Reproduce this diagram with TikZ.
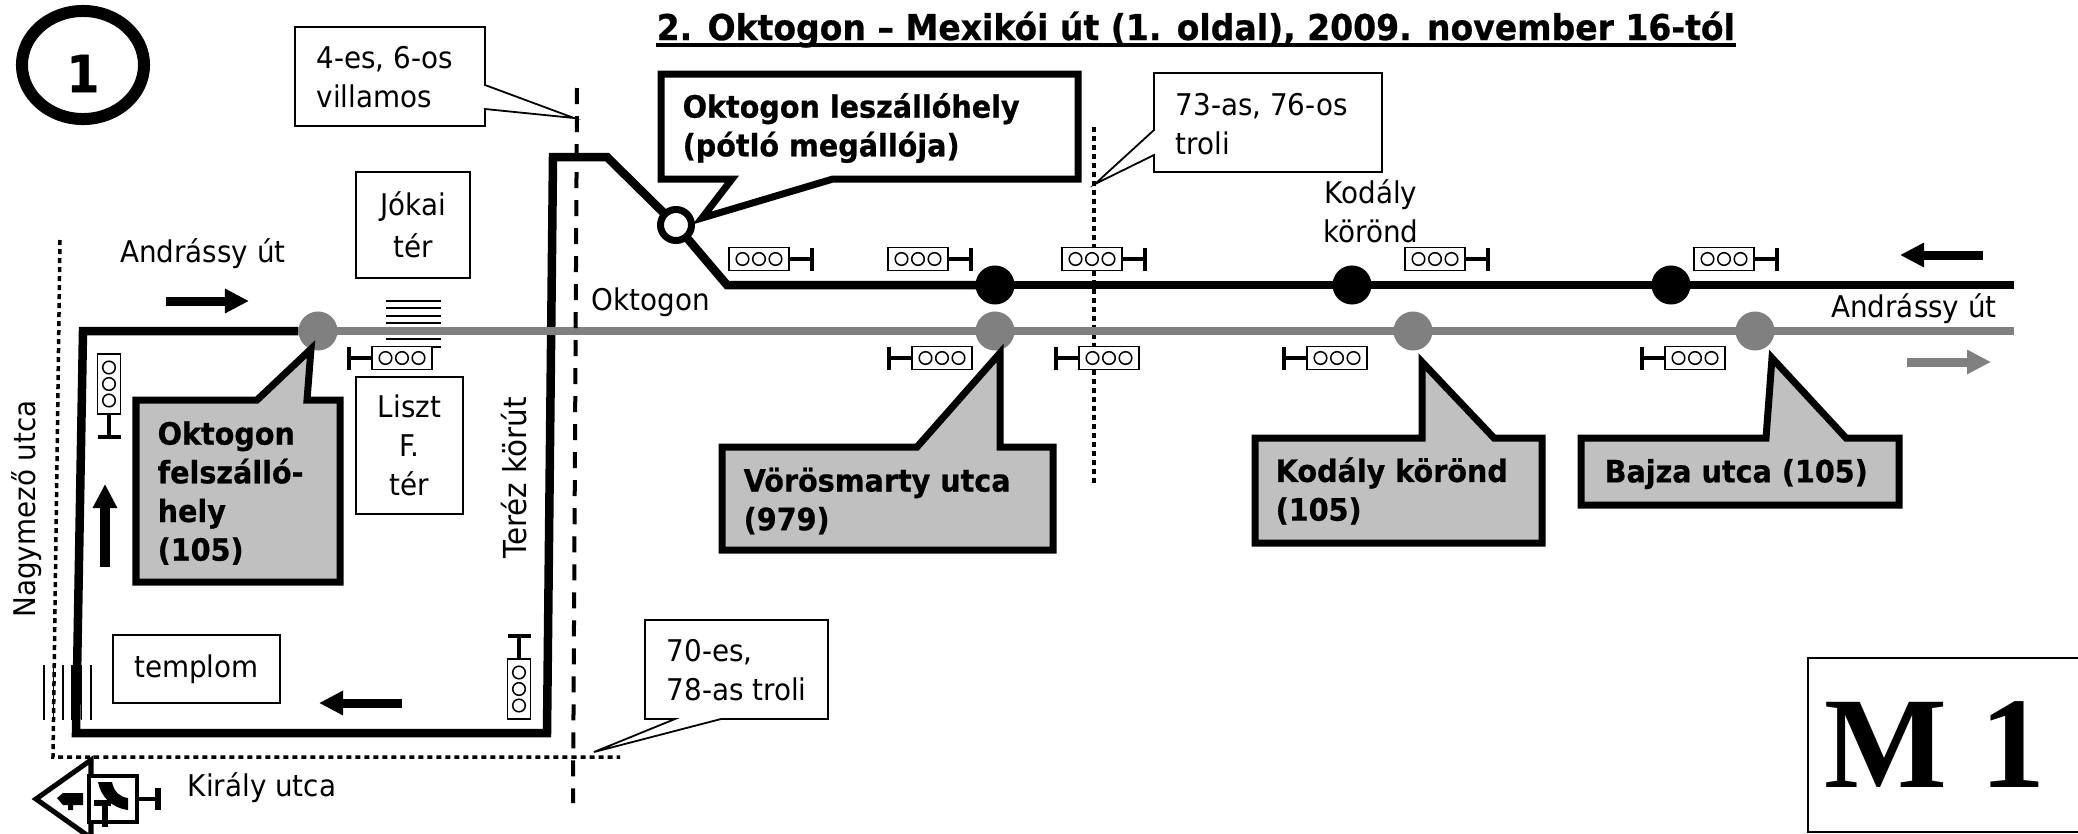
\documentclass[tikz,border=0pt]{standalone}
\usepackage{fontspec}
\setmainfont[FakeStretch=0.93,BoldFeatures={FakeStretch=0.93,FakeBold=0.7}]{DejaVu Sans}
\newfontfamily\mfont{Liberation Serif}
\usepackage{tikz}
\usetikzlibrary{shapes.geometric,arrows.meta}

\definecolor{roadgrey}{HTML}{808080}
\definecolor{calloutgrey}{HTML}{C0C0C0}

\tikzset{
  every node/.style={font=\fontsize{8.5}{11}\selectfont,inner sep=0pt},
  blackroute/.style={line width=0.085cm,black,line join=miter},
  greyroute/.style={line width=0.08cm,roadgrey},
  blackstop/.style={shape=circle,fill=black,minimum size=0.39cm,outer sep=0pt},
  greystop/.style={shape=circle,fill=roadgrey,minimum size=0.39cm,outer sep=0pt},
  labelbox/.style={draw=black,line width=0.018cm,fill=white,align=center},
  thinbubble/.style={draw=black,line width=0.018cm,fill=white},
  thickbubble/.style={draw=black,line width=0.07cm,fill=white,line join=miter},
  greybubble/.style={thickbubble,fill=calloutgrey},
  bubbletext/.style={font=\fontsize{8.75}{11}\selectfont\bfseries,anchor=west,align=left},
  tramline/.style={line width=0.04cm,dash pattern=on 0.16cm off 0.12cm},
  streetline/.style={line width=0.035cm,dash pattern=on 0.05cm off 0.04cm},
  hatchline/.style={line width=0.015cm},
  dirarrow/.style={line width=0.09cm,-{Triangle[length=0.24cm,width=0.23cm]}},
  lights/.pic={
    \draw[line width=0.018cm,fill=white] (-30,-11.5) rectangle (30,11.5);
    \foreach \i in {-16.5,0,16.5}
      \draw[line width=0.015cm] (\i,0) circle (6.3);
    \draw[line width=0.035cm] (30,0) -- (53,0);
    \draw[line width=0.04cm] (53,-11.5) -- (53,11.5);
  }
}

\begin{document}
\begin{tikzpicture}[x=0.01cm,y=-0.01cm]
  \useasboundingbox (0,0) rectangle (2078,833);

  % stops
  \node[greystop] (g1) at (318,331) {};
  \node[greystop] (g2) at (995,331) {};
  \node[greystop] (g3) at (1413,331) {};
  \node[greystop] (g4) at (1755,331) {};
  \node[blackstop] (b1) at (995,285) {};
  \node[blackstop] (b2) at (1352,285) {};
  \node[blackstop] (b3) at (1671,285) {};
  \node[shape=circle,draw=black,fill=white,line width=0.07cm,minimum size=0.31cm,outer sep=0pt] (land) at (676,225) {};

  \coordinate (c1) at (83,331);
  \coordinate (c2) at (76,733);
  \coordinate (c3) at (547,733);
  \coordinate (c4) at (553,157);
  \coordinate (c5) at (607,157);
  \coordinate (c6) at (727,285);
  \coordinate (blackend) at (2014,285);
  \coordinate (greyend) at (2014,331);

  % streets
  \coordinate (s1) at (60,240);
  \coordinate (s2) at (53,757);
  \coordinate (s3) at (620,757);
  \coordinate (s4) at (1094,127);
  \coordinate (s5) at (1094,484);
  \draw[streetline] (s1) -- (s2) -- (s3);
  \draw[streetline] (s4) -- (s5);

  % crossings
  \foreach \y in {301,308,316,323,339,347}
    \draw[hatchline] (386,\y) -- (441,\y);
  \foreach \x in {44,53.4,62.8,72.2,81.6,91}
    \draw[hatchline] (\x,665) -- (\x,720);

  % routes
  \draw[blackroute] (g1.west) -- (c1) -- (c2) -- (c3) -- (c4) -- (c5) -- (land);
  \draw[blackroute] (land) -- (c6) -- (b1.center);
  \draw[blackroute] (b1.center) -- (b2.center);
  \draw[blackroute] (b2.center) -- (b3.center);
  \draw[blackroute] (b3.center) -- (blackend);
  \draw[greyroute] (g1.center) -- (g2.center);
  \draw[greyroute] (g2.center) -- (g3.center);
  \draw[greyroute] (g3.center) -- (g4.center);
  \draw[greyroute] (g4.center) -- (greyend);

  % tram
  \coordinate (t1) at (577,88);
  \coordinate (t2) at (573,803);
  \draw[tramline] (t1) -- (t2);

  % traffic lights
  \foreach \x in {759,918,1092,1435,1724}
    \pic at (\x,259) {lights};
  \foreach \x in {402,942,1109,1337,1695}
    \pic[rotate=180] at (\x,358) {lights};
  \pic[rotate=-90] at (109,384) {lights};
  \pic[rotate=90] at (519,689) {lights};

  % boxes
  \node[labelbox,minimum width=1.14cm,minimum height=1.06cm] (jokai) at (413,225) {\raisebox{0.8pt}{Jókai}\\tér};
  \node[labelbox,minimum width=1.07cm,minimum height=1.37cm] (liszt) at (409.5,445.5) {Liszt\\F.\\tér};
  \node[labelbox,minimum width=1.67cm,minimum height=0.68cm] (templom) at (196.5,669) {templom};

  % small callouts
  \draw[thinbubble] (295,27) -- (485,27) -- (485,85) -- (574,118) -- (485,109) -- (485,126) -- (295,126) -- cycle;
  \node[anchor=west,align=left] (tram) at (316,77) {4-es, 6-os\\villamos};
  \draw[thinbubble] (1154,73) -- (1382,73) -- (1382,172) -- (1154,172) -- (1154,155) -- (1095,184) -- (1154,130) -- cycle;
  \node[anchor=west,align=left] (trolia) at (1175,124) {73-as, 76-os\\troli};
  \draw[thinbubble] (645,620) -- (828,620) -- (828,719) -- (721,719) -- (594,752) -- (675,719) -- (645,719) -- cycle;
  \node[anchor=west,align=left] (trolib) at (666,670) {70-es,\\78-as troli};

  % stop callouts
  \draw[thickbubble] (661,74) -- (1078,74) -- (1078,179) -- (833,179) -- (702,218) -- (732,179) -- (661,179) -- cycle;
  \node[bubbletext] (leszallo) at (682,128) {Oktogon leszállóhely\\(pótló megállója)};
  \draw[greybubble] (136,400) -- (257,400) -- (311,349) -- (307,400) -- (340,400) -- (340,582) -- (136,582) -- cycle;
  \node[bubbletext] (felszallo) at (157,493) {Oktogon\\felszálló-\\hely\\(105)};
  \draw[greybubble] (722,447) -- (917,447) -- (1000,353) -- (1000,447) -- (1053,447) -- (1053,550) -- (722,550) -- cycle;
  \node[bubbletext] (vorosmarty) at (743,501) {Vörösmarty utca\\(979)};
  \draw[greybubble] (1255,438) -- (1422,438) -- (1422,362) -- (1494,438) -- (1542,438) -- (1542,543) -- (1255,543) -- cycle;
  \node[bubbletext] (kodaly) at (1275,491) {Kodály körönd\\(105)};
  \draw[greybubble] (1581,438) -- (1766,438) -- (1772,358) -- (1846,438) -- (1899,438) -- (1899,505) -- (1581,505) -- cycle;
  \node[bubbletext] (bajza) at (1604,474) {Bajza utca (105)};

  % direction arrows
  \draw[dirarrow] (166,301) -- (249,301);
  \draw[dirarrow] (105,567) -- (105,484);
  \draw[dirarrow] (402,703) -- (319,703);
  \draw[dirarrow] (1983,255) -- (1900,255);
  \draw[dirarrow,roadgrey] (1907,362) -- (1991,362);

  % names
  \node (andrassya) at (203,254) {Andrássy út};
  \node (andrassyb) at (1914,309) {Andrássy út};
  \node (oktogon) at (651,302) {Oktogon};
  \node[align=center] (korond) at (1371,211) {Kodály\\körönd};
  \node (kiraly) at (262,788) {Király utca};
  \node[rotate=90] (nagymezo) at (27,509) {Nagymező utca};
  \node[rotate=90,font=\fontsize{9}{11}\selectfont] (terez) at (514,478) {Teréz körút};

  % title and marks
  \node[font=\fontsize{10.1}{12}\selectfont\bfseries,anchor=base west] (title) at (656,40) {2. Oktogon – Mexikói út (1. oldal), 2009. november 16-tól};
  \coordinate (ul1) at ([yshift=-0.05cm]title.base west);
  \coordinate (ul2) at ([yshift=-0.05cm]title.base east);
  \draw[line width=0.04cm] (ul1) -- (ul2);
  \node[shape=ellipse,draw=black,line width=0.12cm,minimum width=1.22cm,minimum height=1.08cm,inner sep=0pt,font=\fontsize{14.5}{16}\selectfont\bfseries] (one) at (83,65) {\raisebox{-7.7pt}[0pt][0pt]{1}};
  \node[draw=black,line width=0.018cm,minimum width=2.75cm,minimum height=1.74cm,font=\fontsize{37}{40}\selectfont\mfont\bfseries] (mark) at (1945.5,745) {M 1\kern0.21cm};

  % metro sign
  \draw[line width=0.05cm,fill=white] (91,760) -- (36,799) -- (91,838) -- cycle;
  \node[draw=black,fill=white,line width=0.045cm,minimum width=0.48cm,minimum height=0.46cm] (sign) at (113,799) {};
  \coordinate (signend) at (158,799);
  \draw[line width=0.04cm] (sign) -- (signend);
  \draw[line width=0.05cm] (158,788) -- (158,810);
  \fill (98,782) -- (112,782) .. controls (114,792) and (120,797) .. (128,798) -- (128,810) .. controls (112,808) and (101,797) .. (98,782) -- cycle;
  \fill (94,800) rectangle (111,806);
  \fill (102,806) rectangle (108,827);
  \fill (57,798) -- (63,793) -- (83,793) -- (83,805) -- (73,805) -- (73,810) -- (68,810) -- (68,805) -- (63,805) -- cycle;
\end{tikzpicture}
\end{document}
